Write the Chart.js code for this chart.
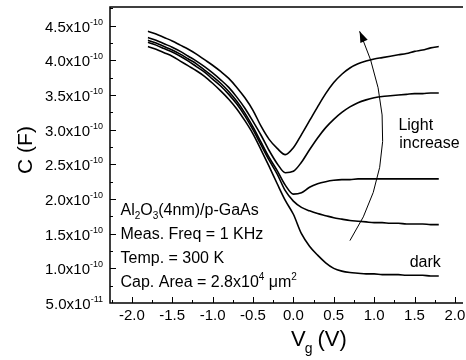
<!DOCTYPE html>
<html>
<head>
<meta charset="utf-8">
<script src="https://cdn.jsdelivr.net/npm/chart.js@4.4.1/dist/chart.umd.min.js"></script>
<style>
  html, body { margin: 0; padding: 0; background: #fff; }
  #wrap { width: 466px; height: 360px; }
</style>
</head>
<body>
<div id="wrap"><canvas id="cv" width="466" height="360"></canvas></div>
<script>
// gate voltage (V)
const vg = [-1.8, -1.7, -1.6, -1.5, -1.4, -1.3, -1.2, -1.1, -1.0, -0.9, -0.8, -0.7, -0.6, -0.5, -0.4, -0.3, -0.2, -0.1,
  0.0, 0.1, 0.2, 0.3, 0.4, 0.5, 0.6, 0.7, 0.8, 0.9, 1.0, 1.1, 1.2, 1.3, 1.4, 1.5, 1.6, 1.7, 1.8];

// capacitance, units of 1e-10 F
const cDark = [4.20, 4.16, 4.11, 4.06, 3.99, 3.92, 3.85, 3.77, 3.67, 3.56, 3.44, 3.30, 3.13, 2.94, 2.71, 2.47, 2.22, 1.98,
  1.78, 1.50, 1.32, 1.19, 1.08, 1.00, 0.96, 0.94, 0.93, 0.92, 0.92, 0.91, 0.91, 0.91, 0.90, 0.90, 0.90, 0.89, 0.89];
const cLight1 = [4.26, 4.22, 4.17, 4.12, 4.06, 3.99, 3.91, 3.83, 3.73, 3.63, 3.51, 3.37, 3.20, 3.00, 2.78, 2.56, 2.36, 2.12,
  1.97, 1.88, 1.83, 1.79, 1.76, 1.73, 1.71, 1.69, 1.68, 1.67, 1.66, 1.66, 1.65, 1.65, 1.64, 1.64, 1.64, 1.63, 1.63];
const cLight2 = [4.29, 4.25, 4.20, 4.15, 4.09, 4.02, 3.95, 3.86, 3.77, 3.67, 3.55, 3.41, 3.24, 3.04, 2.82, 2.60, 2.41, 2.20,
  2.07, 2.09, 2.17, 2.22, 2.25, 2.27, 2.28, 2.28, 2.29, 2.29, 2.29, 2.29, 2.29, 2.29, 2.29, 2.29, 2.29, 2.29, 2.29];
const cLight3 = [4.33, 4.29, 4.24, 4.19, 4.13, 4.06, 3.99, 3.91, 3.82, 3.72, 3.61, 3.47, 3.31, 3.12, 2.92, 2.70, 2.51, 2.38,
  2.40, 2.53, 2.71, 2.88, 3.03, 3.15, 3.25, 3.33, 3.39, 3.43, 3.46, 3.48, 3.49, 3.50, 3.51, 3.52, 3.52, 3.53, 3.53];
const cLight4 = [4.42, 4.38, 4.33, 4.28, 4.22, 4.16, 4.09, 4.01, 3.93, 3.84, 3.74, 3.61, 3.46, 3.28, 3.05, 2.86, 2.73, 2.64,
  2.74, 2.93, 3.13, 3.33, 3.52, 3.68, 3.80, 3.89, 3.95, 3.99, 4.02, 4.04, 4.06, 4.08, 4.10, 4.13, 4.15, 4.18, 4.20];

// axis ticks
const xTicks = [-2.0, -1.5, -1.0, -0.5, 0.0, 0.5, 1.0, 1.5, 2.0];
const xTickLabels = ["-2.0", "-1.5", "-1.0", "-0.5", "0.0", "0.5", "1.0", "1.5", "2.0"];
const yTicks = [0.5, 1.0, 1.5, 2.0, 2.5, 3.0, 3.5, 4.0, 4.5];
const yTickLabels = ["5.0x10^-11", "1.0x10^-10", "1.5x10^-10", "2.0x10^-10", "2.5x10^-10",
  "3.0x10^-10", "3.5x10^-10", "4.0x10^-10", "4.5x10^-10"];

const FONT = "'Liberation Sans', Arial, sans-serif";

function series(arr) {
  return arr.map((c, i) => ({ x: vg[i], y: c }));
}

function line(arr) {
  return {
    data: series(arr),
    borderColor: "#000",
    borderWidth: 1.6,
    pointRadius: 0,
    fill: false,
    cubicInterpolationMode: "monotone",
  };
}

// draws frame, inward ticks, labels and notes
const decor = {
  id: "decor",
  afterDraw(chart) {
    const ctx = chart.ctx;
    const xs = chart.scales.x, ys = chart.scales.y;
    const a = chart.chartArea;
    ctx.save();
    ctx.strokeStyle = "#000";
    ctx.fillStyle = "#000";
    ctx.lineWidth = 1.5;
    ctx.beginPath();
    ctx.moveTo(a.right, a.top);
    ctx.lineTo(a.left, a.top);
    ctx.lineTo(a.left, a.bottom);
    ctx.lineTo(a.right, a.bottom);
    ctx.stroke();

    // x ticks
    ctx.lineWidth = 1;
    for (let v = -2.25; v <= 2.01; v += 0.25) {
      const px = Math.round(xs.getPixelForValue(v)) + 0.5;
      const major = Math.abs(v * 2 - Math.round(v * 2)) < 1e-6;
      ctx.beginPath();
      ctx.moveTo(px, a.bottom);
      ctx.lineTo(px, a.bottom - (major ? 6 : 3));
      ctx.stroke();
    }
    // y ticks
    for (let v = 0.75; v <= 4.76; v += 0.25) {
      const py = Math.round(ys.getPixelForValue(v)) + 0.5;
      const major = Math.abs(v * 2 - Math.round(v * 2)) < 1e-6;
      ctx.beginPath();
      ctx.moveTo(a.left, py);
      ctx.lineTo(a.left + (major ? 6 : 3), py);
      ctx.stroke();
    }

    // x tick labels
    ctx.font = "15px " + FONT;
    ctx.textAlign = "center";
    ctx.textBaseline = "alphabetic";
    xTicks.forEach((v, i) => {
      ctx.fillText(xTickLabels[i], xs.getPixelForValue(v), a.bottom + 17);
    });

    // y tick labels with superscript exponent
    yTicks.forEach((v, i) => {
      const [base, exp] = yTickLabels[i].split("^");
      const py = ys.getPixelForValue(v);
      const right = a.left - 7;
      ctx.font = "9px " + FONT;
      ctx.textAlign = "right";
      const ew = ctx.measureText(exp).width;
      ctx.fillText(exp, right, py - 1);
      ctx.font = "15px " + FONT;
      ctx.fillText(base, right - ew, py + 6);
    });

    // axis titles
    ctx.font = "21px " + FONT;
    ctx.save();
    ctx.translate(32, 150);
    ctx.rotate(-Math.PI / 2);
    ctx.textAlign = "center";
    ctx.fillText("C (F)", 0, 0);
    ctx.restore();

    ctx.textAlign = "left";
    let tx = 291;
    ctx.font = "22px " + FONT;
    ctx.fillText("V", tx, 346);
    tx += ctx.measureText("V").width;
    ctx.font = "14px " + FONT;
    ctx.fillText("g", tx - 1, 353);
    tx += ctx.measureText("g").width + 4;
    ctx.font = "22px " + FONT;
    ctx.fillText("(V)", tx, 346);

    // sample note, mixed sub/superscripts
    function rich(parts, x, y) {
      let cx = x;
      parts.forEach(([t, kind]) => {
        const size = kind ? 10 : 16;
        const dy = kind === "sub" ? 4 : kind === "sup" ? -7 : 0;
        ctx.font = size + "px " + FONT;
        ctx.fillText(t, cx, y + dy);
        cx += ctx.measureText(t).width;
      });
    }
    const nx = xs.getPixelForValue(-2.14);
    rich([["Al"], ["2", "sub"], ["O"], ["3", "sub"], ["(4nm)/p-GaAs"]], nx, ys.getPixelForValue(1.77));
    rich([["Meas. Freq = 1 KHz"]], nx, ys.getPixelForValue(1.425));
    rich([["Temp. = 300 K"]], nx, ys.getPixelForValue(1.08));
    rich([["Cap. Area = 2.8x10"], ["4", "sup"], [" \u03bcm"], ["2", "sup"]], nx, ys.getPixelForValue(0.73));

    ctx.font = "16px " + FONT;
    ctx.fillText("Light", xs.getPixelForValue(1.30), ys.getPixelForValue(2.99));
    ctx.fillText("increase", xs.getPixelForValue(1.31), ys.getPixelForValue(2.73));
    ctx.fillText("dark", xs.getPixelForValue(1.44), ys.getPixelForValue(1.02));

    // curved arrow
    const p0 = [xs.getPixelForValue(0.70), ys.getPixelForValue(1.4)];
    const pc = [xs.getPixelForValue(1.45), ys.getPixelForValue(2.75)];
    const p2 = [xs.getPixelForValue(0.82), ys.getPixelForValue(4.42)];
    ctx.lineWidth = 1;
    ctx.beginPath();
    ctx.moveTo(p0[0], p0[1]);
    ctx.quadraticCurveTo(pc[0], pc[1], p2[0], p2[1]);
    ctx.stroke();
    const ang = Math.atan2(p2[1] - pc[1], p2[0] - pc[0]);
    const L = 11, W = 4;
    ctx.beginPath();
    ctx.moveTo(p2[0], p2[1]);
    ctx.lineTo(p2[0] - L * Math.cos(ang) + W * Math.sin(ang), p2[1] - L * Math.sin(ang) - W * Math.cos(ang));
    ctx.lineTo(p2[0] - L * Math.cos(ang) - W * Math.sin(ang), p2[1] - L * Math.sin(ang) + W * Math.cos(ang));
    ctx.closePath();
    ctx.fill();
    ctx.restore();
  },
};

new Chart(document.getElementById("cv"), {
  type: "line",
  data: {
    datasets: [line(cDark), line(cLight1), line(cLight2), line(cLight3), line(cLight4)],
  },
  options: {
    responsive: false,
    animation: false,
    layout: { padding: { left: 110, top: 7, right: 3, bottom: 57 } },
    plugins: { legend: { display: false }, tooltip: { enabled: false } },
    scales: {
      x: { type: "linear", display: false, min: -2.27, max: 2.1 },
      y: { type: "linear", display: false, min: 0.5, max: 4.77 },
    },
  },
  plugins: [decor],
});
</script>
</body>
</html>
